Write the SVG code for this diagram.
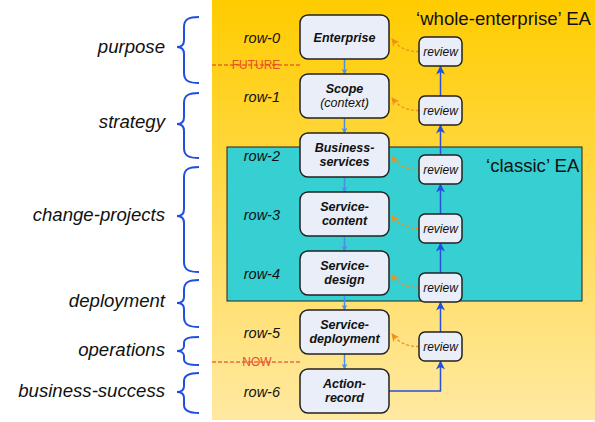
<svg xmlns="http://www.w3.org/2000/svg" width="595" height="422" viewBox="0 0 595 422">
<defs>
<linearGradient id="bg" x1="0" y1="0" x2="0" y2="1">
<stop offset="0" stop-color="#FFCC00"/>
<stop offset="1" stop-color="#FFE9A2"/>
</linearGradient>
<marker id="ah-light" viewBox="0 0 10 10" refX="9" refY="5" markerWidth="6" markerHeight="6" orient="auto" markerUnits="userSpaceOnUse">
<path d="M0,0 L10,5 L0,10 L3,5 Z" fill="#4A8FE0"/>
</marker>
<marker id="ah-blue" viewBox="0 0 10 10" refX="9" refY="5" markerWidth="11" markerHeight="9" orient="auto" markerUnits="userSpaceOnUse">
<path d="M0,0 L10,5 L0,10 L3,5 Z" fill="#1F4FE0"/>
</marker>
<marker id="ah-orange" viewBox="0 0 10 10" refX="9" refY="5" markerWidth="8" markerHeight="8" orient="auto" markerUnits="userSpaceOnUse">
<path d="M0,0 L10,5 L0,10 L3,5 Z" fill="#F0901A"/>
</marker>
</defs>
<style>
.box{fill:#E9EEF8;stroke:#222;stroke-width:1.5}
.bt{font-family:"Liberation Sans",Arial,sans-serif;font-size:12.5px;font-weight:bold;font-style:italic;fill:#111;text-anchor:middle}
.bti{font-family:"Liberation Sans",Arial,sans-serif;font-size:12.5px;font-style:italic;fill:#111;text-anchor:middle}
.rv{font-family:"Liberation Sans",Arial,sans-serif;font-size:12px;font-style:italic;fill:#111;text-anchor:middle}
.row{font-family:"Liberation Sans",Arial,sans-serif;font-size:14.5px;font-style:italic;fill:#111;text-anchor:end}
.lbl{font-family:"Liberation Sans",Arial,sans-serif;font-size:18.6px;font-style:italic;fill:#111;text-anchor:end}
.ttl{font-family:"Liberation Sans",Arial,sans-serif;font-size:18.6px;fill:#111}
.brace{fill:none;stroke:#1F4FE0;stroke-width:2}
.down{stroke:#4A8FE0;stroke-width:1.5;fill:none;marker-end:url(#ah-light)}
.up{stroke:#2A50D8;stroke-width:1.5;fill:none;marker-end:url(#ah-blue)}
.fb{stroke:#F0901A;stroke-width:1.3;stroke-dasharray:3,2;fill:none;marker-end:url(#ah-orange)}
.tl{stroke:#E03020;stroke-width:1;stroke-dasharray:4,2}
.tt{font-family:"Liberation Sans",Arial,sans-serif;font-size:12px;fill:#E8502A;text-anchor:middle}
</style>

<rect x="212" y="0" width="383" height="420" fill="url(#bg)"/>
<rect id="classic-ea" x="227" y="147" width="355" height="154" fill="#36CFD2" stroke="#222" stroke-width="1"/>

<text class="ttl" x="416" y="25">‘whole-enterprise’ EA</text>
<text class="ttl" x="486" y="172">‘classic’ EA</text>

<g id="timeline">
<line class="tl" x1="212" y1="65" x2="300" y2="65"/>
<text class="tt" x="256" y="69">FUTURE</text>
<line class="tl" x1="212" y1="362" x2="300" y2="362"/>
<text class="tt" x="257" y="366">NOW</text>
</g>

<g id="labels">
<text class="lbl" x="165" y="53">purpose</text>
<path class="brace" d="M199,17 C189,17 184,19 184,27 L184,40 C184,45 181,47 177,47 C181,47 184,49 184,54 L184,73 C184,81 189,83 199,83"/>
<text class="lbl" x="165" y="128">strategy</text>
<path class="brace" d="M199,93 C189,93 184,95 184,103 L184,117 C184,122 181,124 177,124 C181,124 184,126 184,131 L184,148 C184,156 189,158 199,158"/>
<text class="lbl" x="165" y="221">change-projects</text>
<path class="brace" d="M199,167 C189,167 184,169 184,177 L184,209 C184,214 181,216 177,216 C181,216 184,218 184,223 L184,262 C184,270 189,272 199,272"/>
<text class="lbl" x="165" y="307">deployment</text>
<path class="brace" d="M199,280 C189,280 184,282 184,290 L184,297 C184,301 181,303 177,303 C181,303 184,305 184,309 L184,317 C184,325 189,327 199,327"/>
<text class="lbl" x="165" y="356">operations</text>
<path class="brace" d="M199,337 C189,337 184,338 184,343 L184,346 C184,349 181,351 177,351 C181,351 184,353 184,356 L184,359 C184,364 189,365 199,365"/>
<text class="lbl" x="165" y="397">business-success</text>
<path class="brace" d="M199,373 C189,373 184,375 184,381 L184,386 C184,390 181,392 177,392 C181,392 184,394 184,398 L184,405 C184,411 189,413 199,413"/>
</g>

<g id="row-labels">
<text class="row" x="280" y="43">row-0</text>
<text class="row" x="280" y="102">row-1</text>
<text class="row" x="280" y="161">row-2</text>
<text class="row" x="280" y="220">row-3</text>
<text class="row" x="280" y="279">row-4</text>
<text class="row" x="280" y="338">row-5</text>
<text class="row" x="280" y="397">row-6</text>
</g>

<g id="connectors">
<line class="down" x1="344.5" y1="59" x2="344.5" y2="74"/>
<line class="down" x1="344.5" y1="118" x2="344.5" y2="133"/>
<line class="down" x1="344.5" y1="177" x2="344.5" y2="192"/>
<line class="down" x1="344.5" y1="236" x2="344.5" y2="251"/>
<line class="down" x1="344.5" y1="295" x2="344.5" y2="310"/>
<line class="down" x1="344.5" y1="354" x2="344.5" y2="369"/>

<line class="up" x1="440.5" y1="96" x2="440.5" y2="66.5"/>
<line class="up" x1="440.5" y1="155" x2="440.5" y2="125.5"/>
<line class="up" x1="440.5" y1="214" x2="440.5" y2="184.5"/>
<line class="up" x1="440.5" y1="273" x2="440.5" y2="243.5"/>
<line class="up" x1="440.5" y1="332" x2="440.5" y2="302.5"/>
<path class="up" d="M389,391 H440.5 V361.5" stroke="#3A58D0"/>

<path class="fb" d="M419,51.5 Q402,52 392,39"/>
<path class="fb" d="M419,110.5 Q402,111 392,98"/>
<path class="fb" d="M419,169.5 Q402,170 392,157"/>
<path class="fb" d="M419,228.5 Q402,229 392,216"/>
<path class="fb" d="M419,287.5 Q402,288 392,275"/>
<path class="fb" d="M419,346.5 Q402,347 392,334"/>
</g>

<g id="enterprise"><rect class="box" x="300" y="15" width="89" height="44" rx="8"/><text class="bt" x="344.5" y="41.5">Enterprise</text></g>
<g id="scope"><rect class="box" x="300" y="74" width="89" height="44" rx="8"/><text class="bt" x="344.5" y="92.5">Scope</text><text class="bti" x="344.5" y="106.5">(context)</text></g>
<g id="business-services"><rect class="box" x="300" y="133" width="89" height="44" rx="8"/><text class="bt" x="344.5" y="151.5">Business-</text><text class="bt" x="344.5" y="165.5">services</text></g>
<g id="service-content"><rect class="box" x="300" y="192" width="89" height="44" rx="8"/><text class="bt" x="344.5" y="210.5">Service-</text><text class="bt" x="344.5" y="224.5">content</text></g>
<g id="service-design"><rect class="box" x="300" y="251" width="89" height="44" rx="8"/><text class="bt" x="344.5" y="269.5">Service-</text><text class="bt" x="344.5" y="283.5">design</text></g>
<g id="service-deployment"><rect class="box" x="300" y="310" width="89" height="44" rx="8"/><text class="bt" x="344.5" y="328.5">Service-</text><text class="bt" x="344.5" y="342.5">deployment</text></g>
<g id="action-record"><rect class="box" x="300" y="369" width="89" height="44" rx="8"/><text class="bt" x="344.5" y="387.5">Action-</text><text class="bt" x="344.5" y="401.5">record</text></g>

<g id="review-0"><rect class="box" x="419" y="37" width="43" height="29" rx="6"/><text class="rv" x="440.5" y="56">review</text></g>
<g id="review-1"><rect class="box" x="419" y="96" width="43" height="29" rx="6"/><text class="rv" x="440.5" y="115">review</text></g>
<g id="review-2"><rect class="box" x="419" y="155" width="43" height="29" rx="6"/><text class="rv" x="440.5" y="174">review</text></g>
<g id="review-3"><rect class="box" x="419" y="214" width="43" height="29" rx="6"/><text class="rv" x="440.5" y="233">review</text></g>
<g id="review-4"><rect class="box" x="419" y="273" width="43" height="29" rx="6"/><text class="rv" x="440.5" y="292">review</text></g>
<g id="review-5"><rect class="box" x="419" y="332" width="43" height="29" rx="6"/><text class="rv" x="440.5" y="351">review</text></g>
</svg>
